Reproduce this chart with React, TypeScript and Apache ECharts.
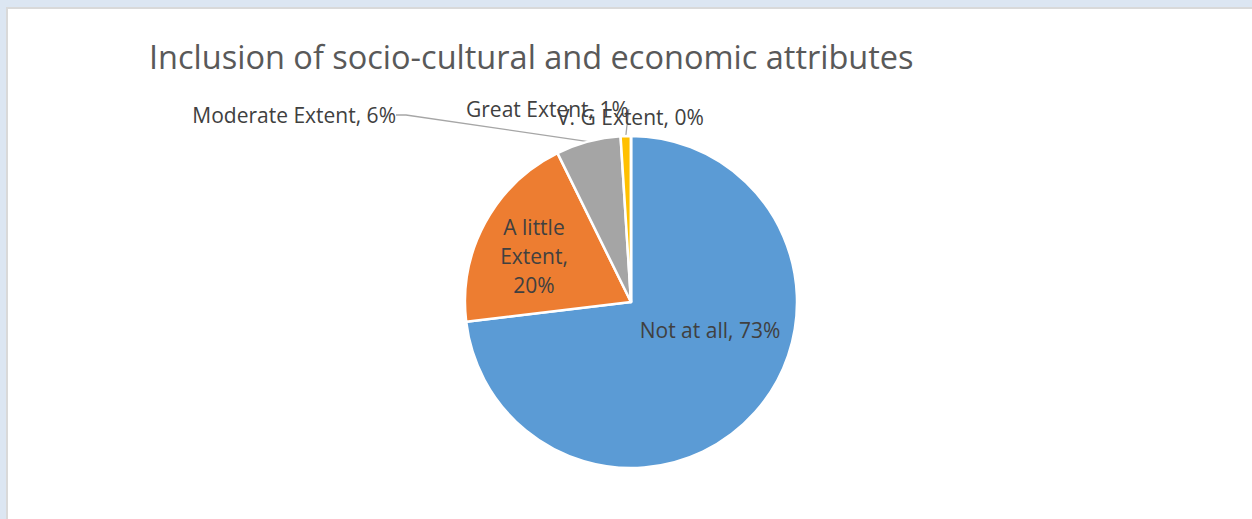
import React, { useEffect, useRef } from "react";
import * as echarts from "echarts";

const titleText = "Inclusion of socio-cultural and economic attributes";
const categories = ["Not at all", "A little Extent", "Moderate Extent", "Great Extent", "V. G Extent"];
const values = [73.1, 19.6, 6.3, 1.0, 0];
const colors = ["#5b9bd5", "#ed7d31", "#a5a5a5", "#ffc000", "#4472c4"];
const labelTexts = ["Not at all, 73%", "A little\nExtent,\n20%", "Moderate Extent, 6%", "Great Extent, 1%", "V. G Extent, 0%"];

const FONT = "Open Sans";

export default function App() {
  const ref = useRef<HTMLDivElement>(null);
  useEffect(() => {
    const chart = echarts.init(ref.current!, null, { renderer: "svg" });
    const labelPos: Record<number, any> = {
      0: { x: 710, y: 330, align: "center", verticalAlign: "middle" },
      1: { x: 534, y: 256, align: "center", verticalAlign: "middle" },
      2: { x: 396, y: 115, align: "right", verticalAlign: "middle" },
      3: { x: 466, y: 109, align: "left", verticalAlign: "middle" },
      4: { x: 557, y: 117, align: "left", verticalAlign: "middle" },
    };
    chart.setOption({
      animation: false,
      backgroundColor: "#dce6f2",
      title: {
        text: titleText,
        left: 144,
        top: 35,
        textStyle: { fontFamily: FONT, fontSize: 32.5, fontWeight: "normal", color: "#595959" },
      },
      graphic: [
        {
          type: "rect",
          z: -10,
          shape: { x: 7, y: 8, width: 1260, height: 530 },
          style: { fill: "#ffffff", stroke: "#d9d9d9", lineWidth: 2 },
        },
      ],
      series: [
        {
          type: "pie",
          center: [631, 302],
          radius: 166,
          startAngle: 90,
          clockwise: true,
          avoidLabelOverlap: false,
          itemStyle: { borderColor: "#ffffff", borderWidth: 2.5 },
          data: categories.map((c, i) => ({
            name: c,
            value: values[i],
            itemStyle: { color: colors[i] },
            label: {
              position: i < 2 ? "inside" : "outside",
              formatter: labelTexts[i],
            },
            labelLine: { show: i === 2 || i === 3 },
          })),
          label: {
            fontFamily: FONT,
            fontSize: 21,
            color: "#404040",
            lineHeight: 29,
            align: "center",
          },
          labelLine: { lineStyle: { color: "#a6a6a6", width: 1.3 }, length: 10, length2: 10 },
          labelLayout: (p: any) => labelPos[p.dataIndex],
        },
      ],
    });
    return () => chart.dispose();
  }, []);
  return <div ref={ref} style={{ position: "absolute", left: 0, top: 0, width: 1252, height: 519 }} />;
}
